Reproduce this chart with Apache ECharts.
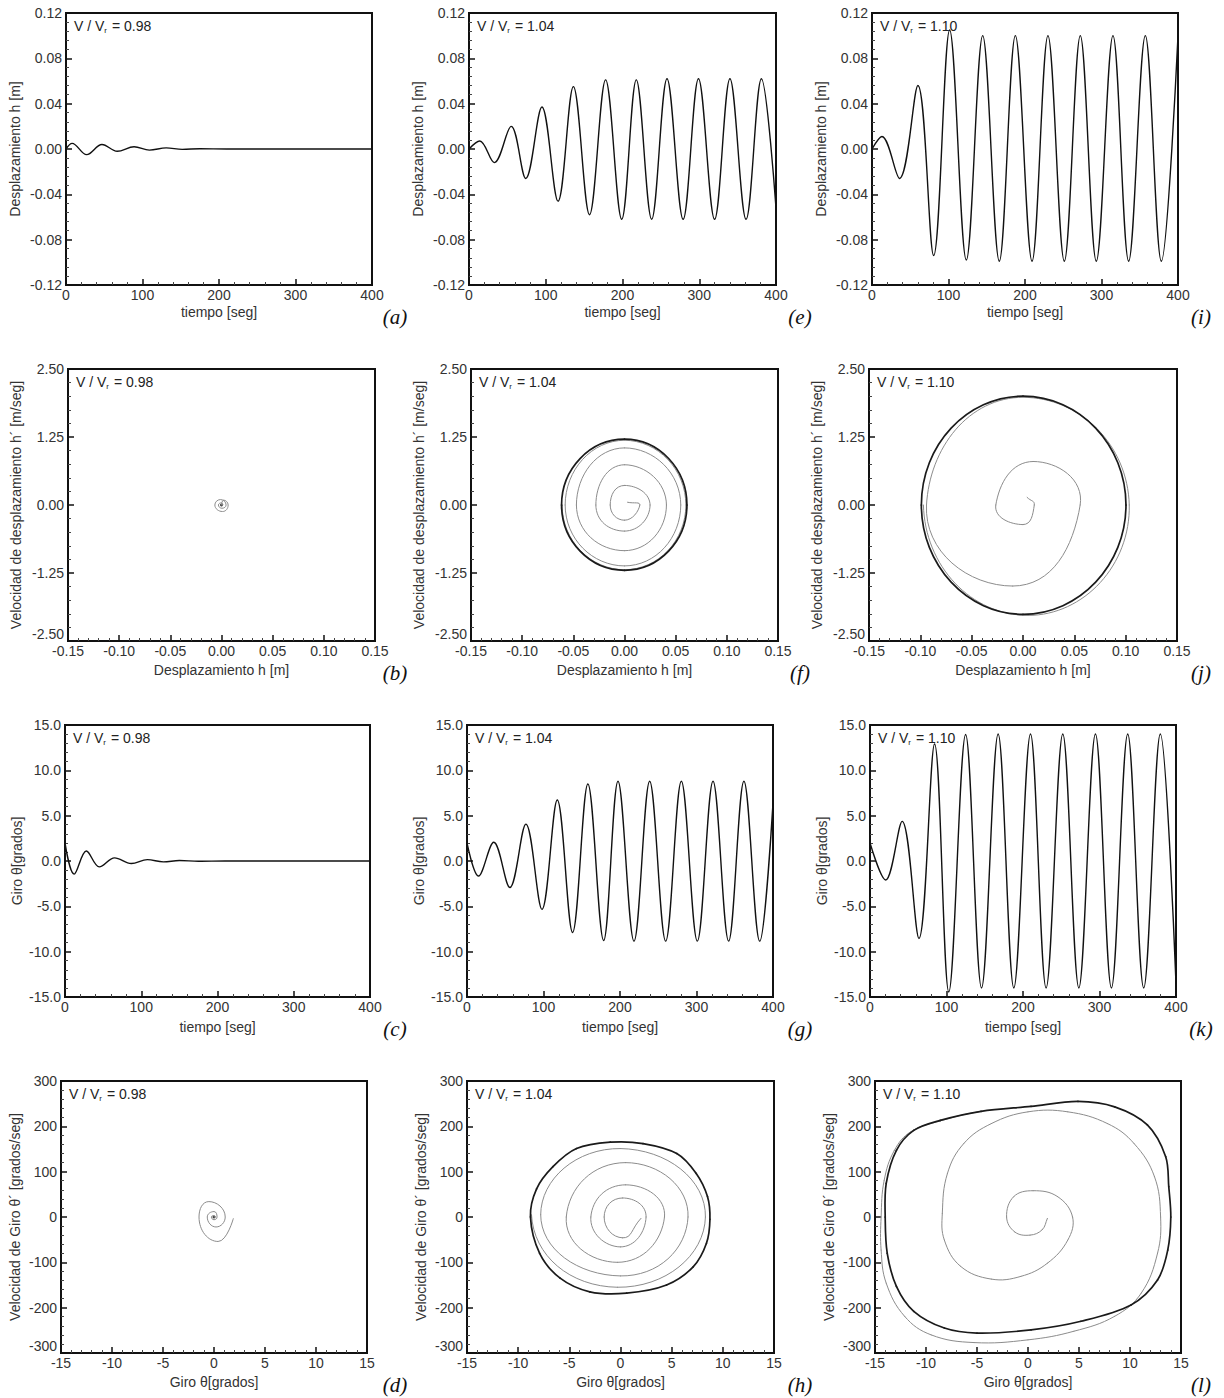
<!DOCTYPE html>
<html><head><meta charset="utf-8">
<script src="https://cdn.jsdelivr.net/npm/echarts@6/dist/echarts.min.js"></script>
<style>html,body{margin:0;padding:0;background:#fff}#c{width:1224px;height:1398px}</style>
</head><body><div id="c"></div>
<script>
// ================= DATA =================
// (a) h(t), V/Vr = 0.98 : extrema
const tA = [0, 8, 27, 47, 67, 89, 109, 131, 152, 175, 210, 300, 400];
const hA = [0, 0.005, -0.005, 0.004, -0.002, 0.002, -0.001, 0.001, -0.0003, 0.0002, 0, 0, 0];
// (e) h(t), V/Vr = 1.04
const tE = [0, 14, 33, 55, 74, 95, 116, 136, 157, 178, 199, 218, 238, 258, 279, 299, 320, 340, 361, 381, 400];
const hE = [0, 0.007, -0.012, 0.020, -0.026, 0.037, -0.046, 0.055, -0.058, 0.061, -0.062, 0.061, -0.062, 0.062, -0.062, 0.062, -0.062, 0.062, -0.062, 0.062, -0.052];
// (i) h(t), V/Vr = 1.10
const tI = [0, 13, 36, 60, 80.6, 101.5, 123.3, 144.7, 166.4, 187.4, 209.2, 230, 251.4, 272.3, 293.2, 315, 335.5, 357.3, 378.2, 400];
const hI = [0, 0.011, -0.026, 0.056, -0.094, 0.105, -0.098, 0.100, -0.099, 0.100, -0.099, 0.100, -0.099, 0.100, -0.099, 0.100, -0.099, 0.100, -0.099, 0.100];

// (b) phase h - h', 0.98
const bX = [0, 0.002, 0.0065, 0.001, -0.0065, -0.001, 0.0045, 0.0005, -0.003, 0, 0.0015, 0];
const bY = [0, 0.09, 0, -0.12, 0, 0.10, 0, -0.06, 0, 0.04, 0, 0];
const bDotX = [0];
const bDotY = [0];
// (f) phase h - h', 1.04 : spiral (gray, last point = where it joins the cycle) and limit cycle (dark, closed)
const fSpX = [0.003, 0.015, 0.0, -0.014, 0.0, 0.025, 0.0, -0.028, 0.0, 0.041, 0.0, -0.047, 0.0, 0.055, 0.0, -0.058, 0.0, 0.060, 0.0, -0.061, 0.0];
const fSpY = [0.05, 0.0, -0.28, 0.0, 0.36, 0.0, -0.48, 0.0, 0.74, 0.0, -0.84, 0.0, 1.05, 0.0, -1.12, 0.0, 1.19, 0.0, -1.19, 0.0, 1.21];
const fLcX = [-0.0615, 0, 0.061, 0];
const fLcY = [0, 1.21, 0, -1.20];
// (j) phase h - h', 1.10
const jSpX = [0.004, 0.011, 0.000, -0.0265, 0.010, 0.0557, -0.010, -0.094, 0.0, 0.1035, 0.005, -0.097, 0.0];
const jSpY = [0.14, 0.0, -0.36, 0.0, 0.80, 0.0, -1.49, 0.0, 1.98, 0.0, -2.03, 0.0, 2.0];
const jLcX = [-0.099, 0, 0.1003, 0];
const jLcY = [0, 2.0, 0, -2.01];

// (c) theta(t), 0.98
const tC = [0, 12, 28, 45, 65, 87, 108, 129, 150, 175, 210, 300, 400];
const thC = [2.0, -1.45, 1.1, -0.65, 0.35, -0.28, 0.15, -0.1, 0.05, -0.03, 0, 0, 0];
// (g) theta(t), 1.04
const tG = [0, 15, 35, 56, 77, 98, 118, 138, 158, 178.6, 197.4, 218.3, 238.8, 259.7, 280.2, 301.1, 321.6, 342, 362, 382.6, 400];
const thG = [2.0, -1.66, 2.07, -2.92, 4.07, -5.33, 6.73, -7.88, 8.5, -8.77, 8.8, -8.84, 8.8, -8.84, 8.8, -8.84, 8.8, -8.84, 8.8, -8.84, 6.4];
// (k) theta(t), 1.10
const tK = [0, 20.5, 42, 64, 84.4, 103, 125, 145.8, 167.5, 188, 209.8, 230.2, 252, 273, 294.7, 315.6, 336.9, 357.8, 379.5, 400];
const thK = [2.0, -2.1, 4.37, -8.54, 12.9, -14.45, 13.96, -14.0, 14.0, -14.0, 14.0, -14.0, 14.0, -14.0, 14.0, -14.0, 14.0, -14.0, 14.0, -13.5];

// (d) phase theta - theta', 0.98
const dSpX = [1.9, 0.4, -1.47, -0.5, 1.1, 0.2, -0.66, 0.0, 0.3, 0.0, -0.26, 0.0, 0.15, 0.0];
const dSpY = [-3, -54, 0, 34, 0, -22, 0, 12, 0, -6, 0, 3, 0, 0];
const dDotX = [0];
const dDotY = [0];
// (h) phase theta - theta', 1.04
const hSpX = [2.0, 0.2, -1.6, 0.2, 2.5, 0.0, -2.9, 0.5, 4.3, -0.3, -5.3, 0.5, 6.6, 0.0, -7.8, 0.0, 8.3, -0.3, -8.7, -1.0];
const hSpY = [-3, -46, 0, 42, 0, -66, 0, 71, 0, -100, 0, 120, 0, -130, 5, 151, 0, -155, 5, 165];
const hLcX = [-8.8, -8.2, -6.6, -4.3, -1.0, 2.2, 5.5, 7.4, 8.5, 8.74, 8.4, 7.1, 4.5, 0.6, -3.0, -5.9, -7.9];
const hLcY = [0, 62, 111, 151, 165, 162, 140, 96, 45, -5, -58, -110, -150, -168, -165, -135, -80];
// (l) phase theta - theta', 1.10
const lSpX = [1.9, 1.4, 0.2, -1.3, -2.1, -1.4, 0.5, 2.9, 4.37, 3.9, 1.9, -0.7, -3.6, -6.6, -8.2, -8.4, -7.9, -6.3, -3.6, 0.0, 3.9, 7.8, 10.4, 12.4, 13.0, 12.7, 11.1, 8.5, 4.5, 0.0, -5.3, -9.5, -12.1, -13.9, -14.4, -14.4, -14.1, -13.1, -11.5, -8.6, -4.6, 0.3];
const lSpY = [-3, -28, -40, -33, 0, 45, 58, 45, 0, -51, -102, -131, -137, -109, -51, 8, 96, 162, 206, 232, 232, 206, 162, 89, 0, -80, -168, -219, -252, -271, -277, -260, -219, -146, -73, 0, 81, 147, 188, 212, 233, 244];
const lLcX = [-4.6, 0.3, 4.9, 8.5, 11.7, 13.5, 13.8, 14.0, 13.7, 12.7, 10.1, 5.2, 0.3, -5.0, -8.2, -11.2, -12.9, -13.8, -14.0, -13.9, -12.9, -11.2, -8.6];
const lLcY = [233, 244, 255, 243, 203, 133, 67, 0, -73, -139, -194, -230, -249, -256, -245, -208, -153, -80, 0, 74, 147, 191, 213];

// annotations / tick settings
const ratios = ['0.98', '1.04', '1.10'];
const letters = [['a','e','i'], ['b','f','j'], ['c','g','k'], ['d','h','l']];
const rowAxes = [
  {x:{min:0, max:400, interval:100, dec:0, name:'tiempo [seg]'},
   y:{min:-0.12, max:0.12, interval:0.04, dec:2, name:'Desplazamiento h [m]'}},
  {x:{min:-0.15, max:0.15, interval:0.05, dec:2, name:'Desplazamiento h [m]'},
   y:{min:-2.5, max:2.5, interval:1.25, dec:2, name:'Velocidad de desplazamiento h´ [m/seg]'}},
  {x:{min:0, max:400, interval:100, dec:0, name:'tiempo [seg]'},
   y:{min:-15, max:15, interval:5, dec:1, name:'Giro θ[grados]'}},
  {x:{min:-15, max:15, interval:5, dec:0, name:'Giro θ[grados]'},
   y:{min:-300, max:300, interval:100, dec:0, name:'Velocidad de Giro θ´ [grados/seg]'}}
];

// ================= LAYOUT =================
const FONT = '"Liberation Sans", Arial, sans-serif';
const rowTop = [13, 369, 725, 1081];
const rowH = 272;
const lefts = [[66, 469, 872], [68, 471, 869], [65, 467, 870], [61, 467, 875]];
const widths = [[306, 307, 306], [307, 307, 308], [305, 306, 306], [306, 307, 306]];
const yNameGap = [44, 45, 41, 39];
const xNameGap = [20, 22, 23, 22];
const letterX = [395, 800, 1201];

function xy(xs, ys) { return xs.map((x, i) => [x, ys[i]]); }
function fmt(d) { return v => { if (Math.abs(v) < 1e-9) v = 0; return v.toFixed(d); }; }

const GRAY = '#8c8c8c', DARK = '#1a1a1a';

// smooth bezier through pixel points (same handle rule as the line series smoothing)
function bezierGroup(pts, smooth, closed, guideEnd, style) {
  const n = pts.length;
  const get = i => {
    if (closed) return pts[(i + n) % n];
    if (i < 0) return pts[0];
    if (i >= n) return guideEnd || pts[n - 1];
    return pts[i];
  };
  const cin = [], cout = [];
  for (let i = 0; i < n; i++) {
    const p = pts[i], a = get(i - 1), b = get(i + 1);
    const vx = b[0] - a[0], vy = b[1] - a[1];
    const d0 = Math.hypot(p[0] - a[0], p[1] - a[1]);
    const d1 = Math.hypot(b[0] - p[0], b[1] - p[1]);
    const s = (d0 + d1) || 1;
    cin[i] = [p[0] - vx * smooth * d0 / s, p[1] - vy * smooth * d0 / s];
    cout[i] = [p[0] + vx * smooth * d1 / s, p[1] + vy * smooth * d1 / s];
  }
  const kids = [];
  const segs = closed ? n : n - 1;
  for (let i = 0; i < segs; i++) {
    const j = (i + 1) % n;
    kids.push({type: 'bezierCurve', silent: true,
      shape: {x1: pts[i][0], y1: pts[i][1], cpx1: cout[i][0], cpy1: cout[i][1],
              cpx2: cin[j][0], cpy2: cin[j][1], x2: pts[j][0], y2: pts[j][1]},
      style: style});
  }
  return {type: 'group', children: kids};
}

function curveSeries(gi, xs, ys, o) {
  return {
    type: 'custom', xAxisIndex: gi, yAxisIndex: gi, silent: true, clip: true,
    data: xy(xs, ys),
    renderItem: (params, api) => {
      if (params.dataIndex !== 0) return;
      const all = xs.map((x, i) => api.coord([x, ys[i]]));
      const pts = o.guide ? all.slice(0, -1) : all;
      const g = o.guide ? all[all.length - 1] : null;
      return bezierGroup(pts, o.smooth, o.closed, g,
        {stroke: o.color, lineWidth: o.width, fill: 'none', lineCap: 'round', lineJoin: 'round'});
    }
  };
}
function lineSeries(gi, data, color, width, smooth) {
  return {type: 'line', xAxisIndex: gi, yAxisIndex: gi, data, symbol: 'none',
    smooth, clip: true, silent: true, lineStyle: {color, width}};
}
function dotSeries(gi, data) {
  return {type: 'scatter', xAxisIndex: gi, yAxisIndex: gi, data, symbolSize: 3,
    itemStyle: {color: '#111'}, silent: true};
}

// series per panel, grid index = row*3 + col
const content = [
  [g => [lineSeries(g, xy(tA, hA), '#111', 1.4, 0.36)],
   g => [lineSeries(g, xy(tE, hE), '#111', 1.4, 0.36)],
   g => [lineSeries(g, xy(tI, hI), '#111', 1.4, 0.36)]],
  [g => [lineSeries(g, xy(bX, bY), GRAY, 1, 0.55), dotSeries(g, xy(bDotX, bDotY))],
   g => [curveSeries(g, fSpX, fSpY, {smooth: 0.55, guide: true, color: GRAY, width: 1}),
         curveSeries(g, fLcX, fLcY, {smooth: 0.55, closed: true, color: DARK, width: 1.7})],
   g => [curveSeries(g, jSpX, jSpY, {smooth: 0.55, guide: true, color: GRAY, width: 1}),
         curveSeries(g, jLcX, jLcY, {smooth: 0.55, closed: true, color: DARK, width: 1.7})]],
  [g => [lineSeries(g, xy(tC, thC), '#111', 1.4, 0.36)],
   g => [lineSeries(g, xy(tG, thG), '#111', 1.4, 0.36)],
   g => [lineSeries(g, xy(tK, thK), '#111', 1.4, 0.36)]],
  [g => [lineSeries(g, xy(dSpX, dSpY), GRAY, 1, 0.55), dotSeries(g, xy(dDotX, dDotY))],
   g => [curveSeries(g, hSpX, hSpY, {smooth: 0.55, guide: true, color: GRAY, width: 1}),
         curveSeries(g, hLcX, hLcY, {smooth: 0.34, closed: true, color: DARK, width: 1.7})],
   g => [curveSeries(g, lSpX, lSpY, {smooth: 0.4, guide: true, color: GRAY, width: 1}),
         curveSeries(g, lLcX, lLcY, {smooth: 0.33, closed: true, color: DARK, width: 1.7})]]
];

const grid = [], xAxis = [], yAxis = [], series = [], graphic = [];
let gi = 0;
for (let r = 0; r < 4; r++) {
  for (let c = 0; c < 3; c++) {
    const L = lefts[r][c], T = rowTop[r], Wd = widths[r][c];
    grid.push({left: L, top: T, width: Wd, height: rowH, show: true,
      borderColor: '#111', borderWidth: 2, backgroundColor: '#fff', containLabel: false});
    const ax = rowAxes[r];
    const common = (a, isX) => ({
      type: 'value', gridIndex: gi, min: a.min, max: a.max, interval: a.interval,
      name: a.name, nameLocation: 'middle', nameGap: isX ? xNameGap[r] : yNameGap[r],
      nameMoveOverlap: false,
      nameTextStyle: {fontFamily: FONT, fontSize: 14, color: '#333'},
      axisLine: {show: true, onZero: false, lineStyle: {color: '#111', width: 2}},
      axisTick: {show: true, inside: true, length: 6, lineStyle: {color: '#111', width: 1.5}},
      minorTick: {show: true, splitNumber: 5, length: 3, lineStyle: {color: '#444', width: 1}},
      splitLine: {show: false}, minorSplitLine: {show: false},
      axisLabel: {fontFamily: FONT, fontSize: 14, color: '#333', margin: isX ? 3 : 4,
        formatter: fmt(a.dec), hideOverlap: false}
    });
    xAxis.push(Object.assign(common(ax.x, true), {position: 'bottom'}));
    const ya = Object.assign(common(ax.y, false), {position: 'left'});
    if (r === 1 || r === 3) ya.axisLabel.verticalAlignMinLabel = 'bottom';
    yAxis.push(ya);
    content[r][c](gi).forEach(s => series.push(s));
    graphic.push({type: 'text', x: L + 8, y: T + 5, silent: true,
      style: {text: 'V / V{s|r} = ' + ratios[c], fontSize: 14, fontFamily: FONT, fill: '#222',
        lineHeight: 16,
        rich: {s: {fontSize: 8, fontFamily: FONT, fill: '#222', verticalAlign: 'bottom', lineHeight: 16, padding: [6, 1, 0, 0]}}}});
    graphic.push({type: 'text', x: letterX[c], y: T + rowH + 32, silent: true,
      style: {text: '(' + letters[r][c] + ')', fontSize: 21, fontStyle: 'italic',
        fontFamily: '"Liberation Serif", "Times New Roman", serif', fill: '#111',
        align: 'center', verticalAlign: 'middle', textAlign: 'center', textVerticalAlign: 'middle'}});
    gi++;
  }
}

const chart = echarts.init(document.getElementById('c'), null, {renderer: 'svg', width: 1224, height: 1398});
chart.setOption({animation: false, backgroundColor: '#fff', grid, xAxis, yAxis, series, graphic});
</script></body></html>
